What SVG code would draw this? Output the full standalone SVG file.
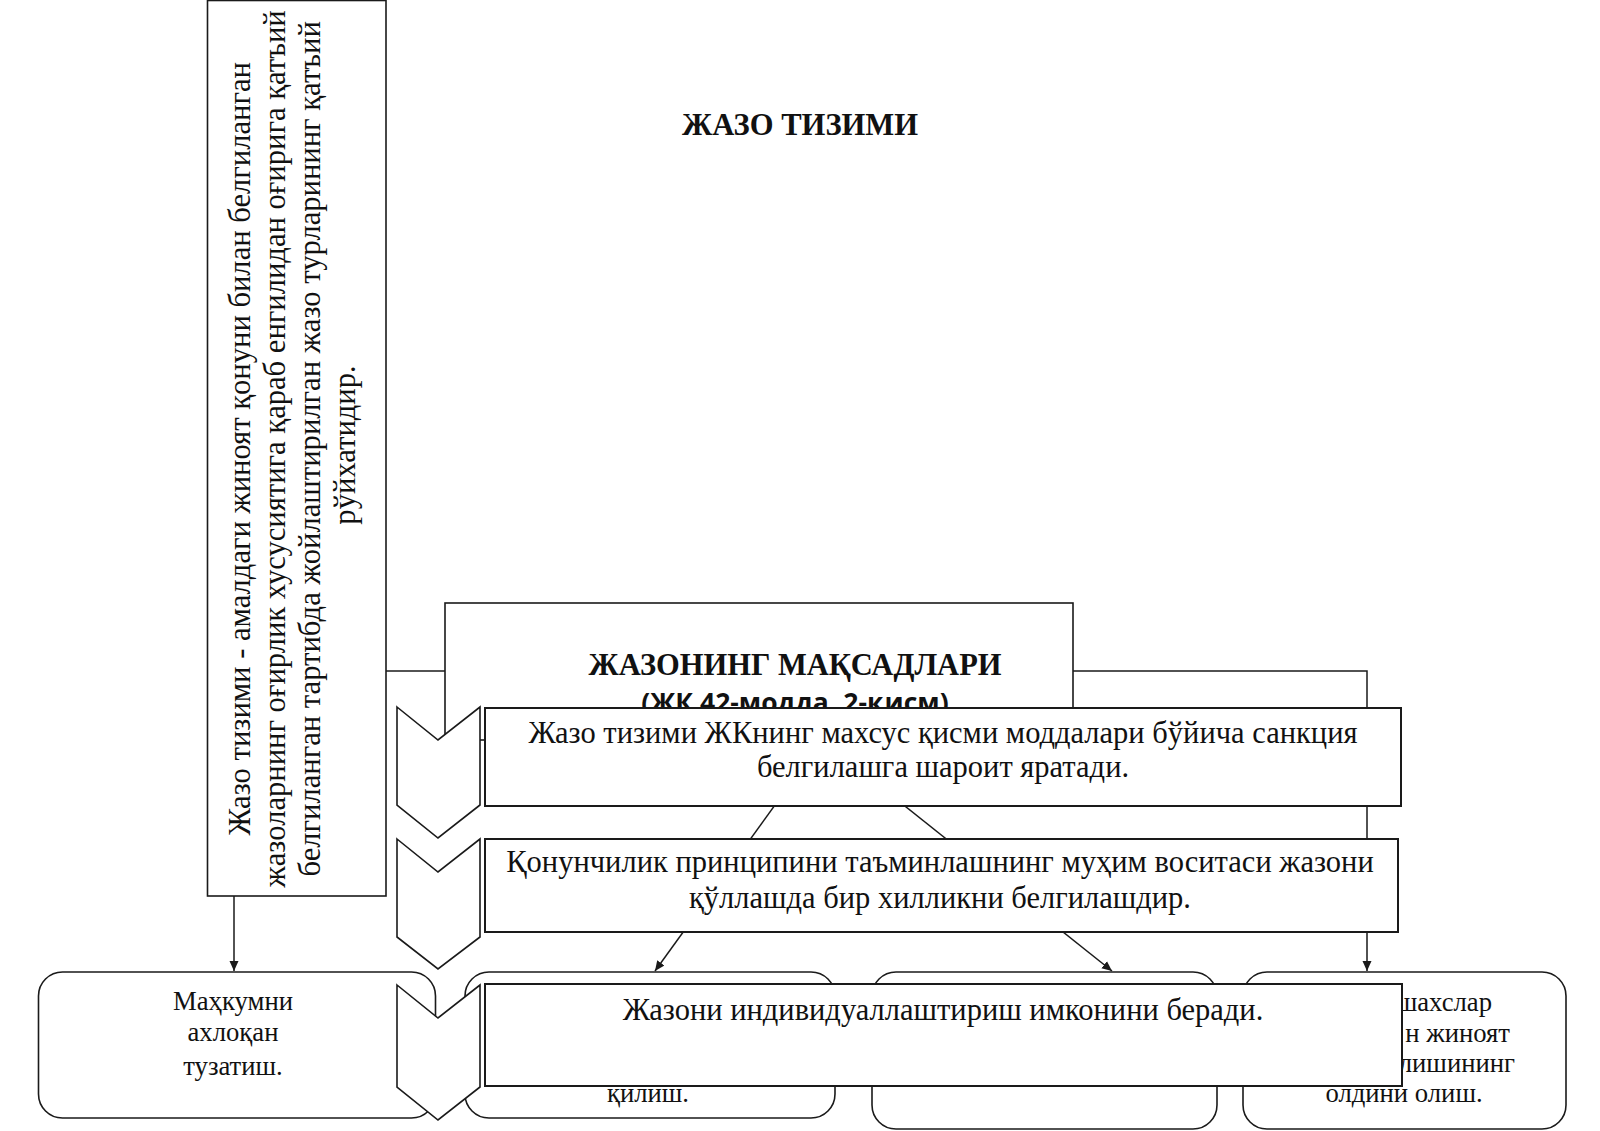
<svg xmlns="http://www.w3.org/2000/svg" width="1600" height="1131" viewBox="0 0 1600 1131">
<style>
.bx{fill:#fff;stroke:#1a1a1a;stroke-width:1.6}
.tb{fill:#fff;stroke:#1a1a1a;stroke-width:2}
.ln{fill:none;stroke:#1a1a1a;stroke-width:1.5}
.s{font-family:"Liberation Serif","Times New Roman",serif;fill:#111}
.vt{font-size:30.6px;text-anchor:middle}
.mt{font-size:30.5px;text-anchor:middle}
.bt{font-size:26.7px}
.hb{font-weight:bold;text-anchor:middle}
.sub{font-family:"Open Sans","DejaVu Sans",sans-serif;font-weight:bold;font-size:26.5px;text-anchor:middle;fill:#111}
</style>
<defs>
<marker id="ah" viewBox="0 0 10 10" refX="10" refY="5" markerWidth="10" markerHeight="10" markerUnits="userSpaceOnUse" orient="auto">
<path d="M0,0.5 L10,5 L0,9.5 Z" fill="#1a1a1a"/>
</marker>
<clipPath id="subclip"><rect x="445" y="603" width="628" height="105"/></clipPath>
</defs>
<rect width="1600" height="1131" fill="#fff"/>

<g id="title">
<text class="s hb" x="800" y="135" font-size="30.6">ЖАЗО ТИЗИМИ</text>
</g>

<g id="definition">
<rect class="bx" x="207.5" y="0.5" width="178.5" height="895.5"/>
<text class="s vt" transform="rotate(-90)">
<tspan x="-445" y="250">Жазо тизими - амалдаги жиноят қонуни билан белгиланган</tspan>
<tspan x="-445" y="285">жазоларнинг оғирлик хусусиятига қараб енгилидан оғирига қатъий</tspan>
<tspan x="-445" y="320">белгиланган тартибда жойлаштирилган жазо турларининг қатъий</tspan>
<tspan x="-445" y="355">рўйхатидир.</tspan>
</text>
</g>

<g id="goal1">
<rect class="bx" x="38.5" y="972" width="397" height="146" rx="24"/>
<text class="s bt" text-anchor="middle"><tspan x="233" y="1010">Маҳкумни</tspan><tspan x="233" y="1041">ахлоқан</tspan><tspan x="233" y="1075">тузатиш.</tspan></text>
</g>

<g id="goal2">
<rect class="bx" x="465" y="972" width="370" height="146" rx="24"/>
<text class="s bt" text-anchor="middle" x="648" y="1102">қилиш.</text>
</g>

<g id="goal3">
<rect class="bx" x="872" y="972" width="345" height="157" rx="24"/>
</g>

<g id="goal4">
<rect class="bx" x="1243" y="972" width="323" height="157" rx="24"/>
<text class="s bt" text-anchor="end"><tspan x="1492" y="1011">шахслар</tspan><tspan x="1510" y="1042">н жиноят</tspan><tspan x="1515" y="1072">лишининг</tspan></text>
<text class="s bt" text-anchor="middle" x="1404" y="1102">олдини олиш.</text>
</g>

<g id="goals">
<rect class="bx" x="445" y="603" width="628" height="137"/>
<text class="s hb" x="795" y="675" font-size="30.5">ЖАЗОНИНГ МАҚСАДЛАРИ</text>
<text class="sub" x="795" y="712" clip-path="url(#subclip)">(ЖК 42-модда, 2-қисм)</text>
</g>

<g id="connectors">
<path class="ln" d="M386,671 H445"/>
<path class="ln" d="M234,896 V971" marker-end="url(#ah)"/>
<path class="ln" d="M1073,671 H1367 V971" marker-end="url(#ah)"/>
<path class="ln" d="M822,740 L655,971" marker-end="url(#ah)"/>
<path class="ln" d="M822,740 L1112,971" marker-end="url(#ah)"/>
</g>

<g id="note1">
<rect class="tb" x="485" y="708" width="916" height="98"/>
<text class="s mt"><tspan x="943" y="743">Жазо тизими ЖКнинг махсус қисми моддалари бўйича санкция</tspan><tspan x="943" y="777">белгилашга шароит яратади.</tspan></text>
</g>

<g id="note2">
<rect class="tb" x="485" y="839" width="913" height="93"/>
<text class="s mt"><tspan x="940" y="872">Қонунчилик принципини таъминлашнинг муҳим воситаси жазони</tspan><tspan x="940" y="908">қўллашда бир хилликни белгилашдир.</tspan></text>
</g>

<g id="note3">
<rect class="tb" x="485" y="984" width="917" height="102"/>
<text class="s mt" x="943" y="1020">Жазони индивидуаллаштириш имконини беради.</text>
</g>

<g id="chevrons">
<polygon class="bx" points="397,707 438,740 480,707 480,805 438,838 397,805"/>
<polygon class="bx" points="397,839 438,872 480,839 480,937 438,969 397,937"/>
<polygon class="bx" points="397,985 438,1018 480,985 480,1087 438,1120 397,1087"/>
</g>
</svg>
